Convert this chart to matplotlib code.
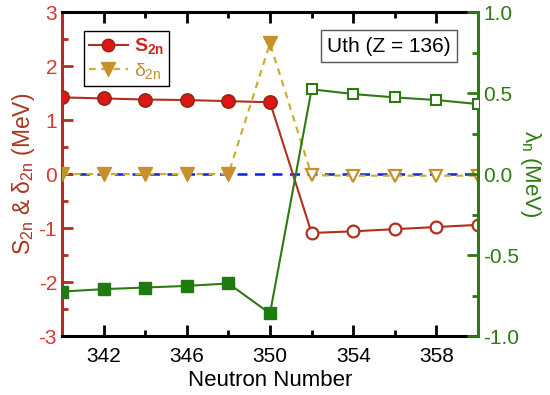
import matplotlib
matplotlib.use("Agg")
import matplotlib.pyplot as plt
from matplotlib.lines import Line2D
from matplotlib.ticker import MultipleLocator

plt.rcParams['font.family'] = ['Liberation Sans', 'DejaVu Sans']
plt.rcParams['mathtext.fontset'] = 'custom'
plt.rcParams['mathtext.rm'] = 'Liberation Sans'
plt.rcParams['mathtext.it'] = 'Liberation Sans'
plt.rcParams['mathtext.bf'] = 'Liberation Sans:bold'
plt.rcParams['axes.unicode_minus'] = False

# ---- data ----
N = [340, 342, 344, 346, 348, 350, 352, 354, 356, 358, 360]
S2n = [1.42, 1.40, 1.38, 1.37, 1.35, 1.33, -1.09, -1.06, -1.02, -0.98, -0.94]
d2n = [0.0, 0.0, 0.0, 0.0, 0.0, 2.42, -0.02, -0.03, -0.03, -0.03, -0.03]
lam = [-0.725, -0.71, -0.70, -0.69, -0.675, -0.86, 0.523, 0.494, 0.473, 0.457, 0.432]
n_filled = 6  # first six points drawn with filled markers

red_line = '#B0301C'
red_face = '#E01515'
red_edge = '#8E2A12'
gold_line = '#C9B035'
gold_face = '#C8902A'
green = '#2E7A12'
green_face = '#1F7A10'
blue = '#1020E0'

fig = plt.figure(figsize=(5.5, 3.95), dpi=100)
ax = fig.add_axes([0.1127, 0.149, 0.7564, 0.8206])
ax2 = ax.twinx()

ax.axhline(0, color=blue, lw=1.8, ls=(0, (4, 3)), zorder=1)

# delta_2n
ax.plot(N, d2n, color=gold_line, lw=1.6, ls=(0, (3, 2.5)), zorder=2)
ax.plot(N[:n_filled], d2n[:n_filled], ls='none', marker='v', ms=10,
        mfc=gold_face, mec=gold_face, zorder=3)
ax.plot(N[n_filled:], d2n[n_filled:], ls='none', marker='v', ms=9,
        mfc='white', mec=gold_face, mew=1.6, zorder=3)

# S_2n
ax.plot(N, S2n, color=red_line, lw=1.5, zorder=4)
ax.plot(N[:n_filled], S2n[:n_filled], ls='none', marker='o', ms=9.5,
        mfc=red_face, mec=red_edge, mew=1.2, zorder=5)
ax.plot(N[n_filled:], S2n[n_filled:], ls='none', marker='o', ms=8.5,
        mfc='white', mec=red_line, mew=1.6, zorder=5)

# lambda_n
ax2.plot(N, lam, color=green, lw=1.5, zorder=4)
ax2.plot(N[:n_filled], lam[:n_filled], ls='none', marker='s', ms=8,
         mfc=green_face, mec=green_face, zorder=5)
ax2.plot(N[n_filled:], lam[n_filled:], ls='none', marker='s', ms=7.5,
         mfc='white', mec=green, mew=1.5, zorder=5)

ax.set_xlim(340, 360)
ax.set_ylim(-3, 3)
ax2.set_ylim(-1.0, 1.0)

ax.xaxis.set_minor_locator(MultipleLocator(2))
ax.set_xticks([342, 346, 350, 354, 358])
ax.yaxis.set_major_locator(MultipleLocator(1))
ax.yaxis.set_minor_locator(MultipleLocator(0.5))
ax2.yaxis.set_major_locator(MultipleLocator(0.5))
ax2.yaxis.set_minor_locator(MultipleLocator(0.25))
ax2.yaxis.set_major_formatter(plt.FuncFormatter(lambda v, p: f"{v:.1f}"))

for sp in ['top', 'bottom']:
    ax.spines[sp].set_linewidth(2.2)
    ax.spines[sp].set_color('black')
ax.spines['left'].set_color(red_line)
ax.spines['left'].set_linewidth(2.2)
ax2.spines['left'].set_visible(False)
ax2.spines['right'].set_color(green)
ax2.spines['right'].set_linewidth(2.2)
ax.spines['right'].set_visible(False)
ax2.spines['top'].set_visible(False)
ax2.spines['bottom'].set_visible(False)

ax.tick_params(axis='x', which='both', direction='in', top=True, colors='black',
               labelsize=15, width=2, pad=8)
ax.tick_params(axis='x', which='major', length=8)
ax.tick_params(axis='x', which='minor', length=4)
ax.tick_params(axis='y', which='both', direction='in', right=False, color=red_line,
               labelcolor='#D93A2E', labelsize=15, width=2)
ax.tick_params(axis='y', which='major', length=8)
ax.tick_params(axis='y', which='minor', length=4)
ax2.tick_params(axis='y', which='both', direction='in', color=green,
                labelcolor=green, labelsize=15, width=2, pad=4)
ax2.tick_params(axis='y', which='major', length=8)
ax2.tick_params(axis='y', which='minor', length=4)

ax.set_xlabel('Neutron Number', fontsize=16, labelpad=3)
ax.set_ylabel(r'S$_{2n}$ & $\delta_{2n}$ (MeV)', fontsize=16.5, color='#A8361E', labelpad=1)
ax2.set_ylabel(r'$\lambda_n$ (MeV)', fontsize=16, color=green, rotation=270, labelpad=17)

handles = [
    Line2D([], [], color=red_line, lw=1.5, marker='o', ms=9, mfc=red_face, mec=red_edge),
    Line2D([], [], color=gold_line, lw=1.6, ls=(0, (3, 2.5)), marker='v', ms=9.5,
           mfc=gold_face, mec=gold_face),
]
leg = ax.legend(handles, [r'$\mathbf{S_{2n}}$', r'$\delta_{2n}$'], loc='upper left',
                bbox_to_anchor=(0.053, 0.94), fontsize=14, frameon=True, fancybox=False,
                edgecolor='black', handlelength=2.0, handletextpad=0.3,
                borderpad=0.25, labelspacing=0.25, borderaxespad=0, framealpha=1)
leg.get_frame().set_linewidth(1.0)
leg.get_texts()[0].set_color('#C8281E')
leg.get_texts()[1].set_color('#C0902A')

ax.text(0.637, 0.895, 'Uth (Z = 136)', transform=ax.transAxes, fontsize=15,
        ha='left', va='center',
        bbox=dict(boxstyle='square,pad=0.3', fc='white', ec='#555555', lw=1.0))

fig.savefig('out.png', dpi=100)
